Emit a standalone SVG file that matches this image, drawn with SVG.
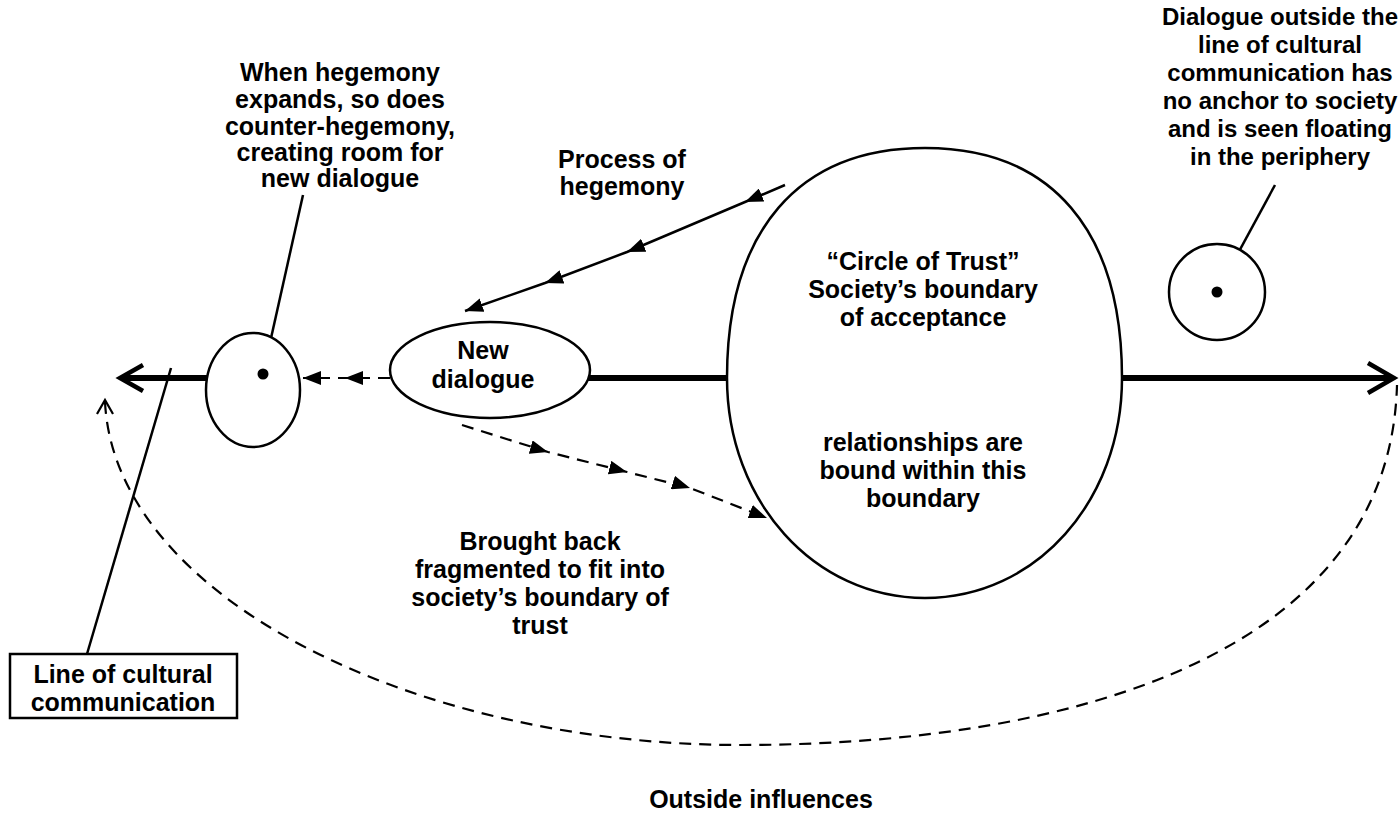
<svg xmlns="http://www.w3.org/2000/svg" width="1399" height="819" viewBox="0 0 1399 819">
<defs>
<style>
.t{font-family:"Liberation Sans",Arial,sans-serif;font-weight:bold;font-size:25px;fill:#000;text-anchor:middle}
.s{font-size:24px}
.sh{fill:#fff;stroke:#000;stroke-width:2.5}
.ln{fill:none;stroke:#000;stroke-width:2.5}
.dl{fill:none;stroke:#000;stroke-width:2.2;stroke-dasharray:12 8}
.thick{fill:none;stroke:#000;stroke-width:6}
</style>
<marker id="ah" markerUnits="userSpaceOnUse" markerWidth="18" markerHeight="14" viewBox="0 0 18 14" refX="18" refY="7" orient="auto">
<path d="M0,0 L18,7 L0,14 z" fill="#000"/>
</marker>
</defs>
<g id="connectors">
<path class="thick" d="M207,378 L122,378"/>
<path d="M143,365 L120,378 L143,391" fill="none" stroke="#000" stroke-width="4.5" stroke-linejoin="miter"/>
<path class="thick" d="M588,378 L727,378"/>
<path class="thick" d="M1122,378 L1390,378"/>
<path d="M1368,363 L1394,378 L1368,393" fill="none" stroke="#000" stroke-width="4.5" stroke-linejoin="miter"/>
<polyline class="dl" points="390,378 345,378 303,378" marker-mid="url(#ah)" marker-end="url(#ah)"/>
<polyline class="ln" points="785,185 745,202 627,252 545,283 465,311" marker-mid="url(#ah)" marker-end="url(#ah)"/>
<polyline class="dl" points="462,425 548,452 627,472 690,488 767,518" marker-mid="url(#ah)" marker-end="url(#ah)"/>
<path class="dl" d="M105,402 C115,600 420,745 740,745 C1080,745 1390,650 1397,385"/>
<path d="M97,414 L105,400 L113,414" fill="none" stroke="#000" stroke-width="2.2"/>
<line class="ln" x1="303" y1="195" x2="263" y2="374"/>
<line class="ln" x1="1275" y1="185" x2="1217" y2="292"/>
<line class="ln" x1="87" y1="654" x2="171" y2="368"/>
</g>
<g id="small-ellipse">
<ellipse class="sh" cx="253" cy="390" rx="47" ry="57" fill="none"/>
<circle cx="263" cy="374" r="5.5" fill="#000"/>
</g>
<g id="new-dialogue">
<ellipse class="sh" cx="490" cy="370" rx="100" ry="48"/>
<text class="t" x="483" y="359">New</text>
<text class="t" x="483" y="388">dialogue</text>
</g>
<g id="circle-of-trust">
<path class="sh" d="M925,148 C798,148 727,231 727,378 C727,501 814,598 925,598 C1036,598 1122,501 1122,378 C1122,231 1052,148 925,148 Z"/>
<text class="t" x="923" y="270">“Circle of Trust”</text>
<text class="t" x="923" y="298">Society’s boundary</text>
<text class="t" x="923" y="326">of acceptance</text>
<text class="t" x="923" y="451">relationships are</text>
<text class="t" x="923" y="479">bound within this</text>
<text class="t" x="923" y="507">boundary</text>
</g>
<g id="floating-dialogue">
<circle class="sh" cx="1217" cy="292" r="48"/>
<circle cx="1217" cy="292" r="5.5" fill="#000"/>
</g>
<g id="label-counter">
<text class="t" x="340" y="81">When hegemony</text>
<text class="t" x="340" y="108">expands, so does</text>
<text class="t" x="340" y="135">counter-hegemony,</text>
<text class="t" x="340" y="161">creating room for</text>
<text class="t" x="340" y="187">new dialogue</text>
</g>
<g id="label-periphery">
<text class="t s" x="1280" y="25">Dialogue outside the</text>
<text class="t s" x="1280" y="53">line of cultural</text>
<text class="t s" x="1280" y="81">communication has</text>
<text class="t s" x="1280" y="109">no anchor to society</text>
<text class="t s" x="1280" y="137">and is seen floating</text>
<text class="t s" x="1280" y="165">in the periphery</text>
</g>
<g id="label-process">
<text class="t" x="622" y="168">Process of</text>
<text class="t" x="622" y="195">hegemony</text>
</g>
<g id="label-brought">
<text class="t" x="540" y="550">Brought back</text>
<text class="t" x="540" y="578">fragmented to fit into</text>
<text class="t" x="540" y="606">society’s boundary of</text>
<text class="t" x="540" y="634">trust</text>
</g>
<g id="label-outside">
<text class="t" x="761" y="808">Outside influences</text>
</g>
<g id="line-box">
<rect class="sh" x="10" y="654" width="227" height="64"/>
<text class="t" x="123" y="683">Line of cultural</text>
<text class="t" x="123" y="711">communication</text>
</g>
</svg>
